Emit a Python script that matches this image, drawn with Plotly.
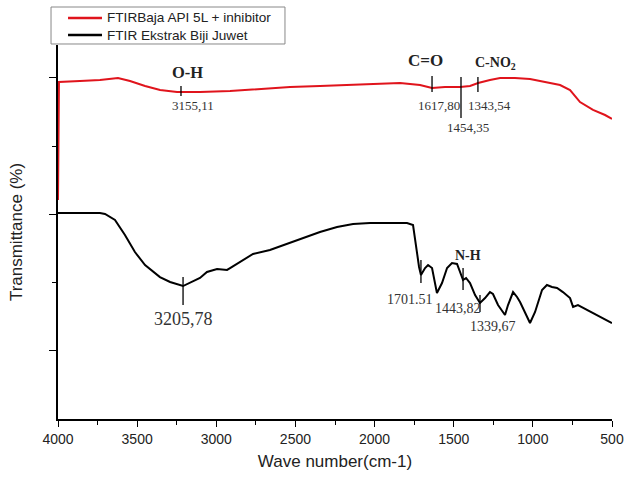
import plotly.graph_objects as go

# Wavenumber (cm-1) and transmittance (arbitrary, offset)
red_x = [4000, 3994, 3861, 3735, 3621, 3545, 3450, 3355, 3248, 3103, 2913, 2724, 2534, 2345,
         2155, 1966, 1839, 1713, 1637, 1555, 1460, 1397, 1346, 1271, 1207, 1113, 1018, 923,
         828, 765, 702, 620, 544, 500]
red_y = [160.4, 246.9, 247.6, 248.4, 249.8, 247.6, 244.0, 241.0, 239.6, 239.6, 240.3, 241.8,
         243.2, 244.0, 244.7, 245.4, 246.2, 244.7, 242.5, 243.2, 243.2, 244.0, 246.2, 248.4,
         249.8, 249.8, 249.1, 246.9, 244.7, 241.0, 232.2, 226.4, 222.7, 219.8]

black_x = [4000, 3861, 3735, 3703, 3640, 3577, 3514, 3450, 3356, 3292, 3210, 3103, 3059, 2995,
           2932, 2913, 2850, 2768, 2661, 2515, 2345, 2237, 2136, 2029, 1921, 1795, 1757, 1744,
           1719, 1707, 1681, 1662, 1637, 1606, 1574, 1542, 1511, 1479, 1460, 1441, 1422, 1397,
           1365, 1334, 1302, 1271, 1252, 1220, 1176, 1157, 1125, 1100, 1081, 1050, 1018, 986,
           942, 911, 879, 847, 810, 765, 746, 715, 658, 595, 531, 500]
black_y = [150.9, 150.9, 150.9, 150.2, 145.8, 134.8, 122.3, 112.8, 104.0, 100.4, 97.4, 103.3,
           107.7, 109.9, 109.2, 110.6, 115.0, 120.9, 123.8, 129.7, 137.0, 140.7, 142.9, 143.6,
           143.6, 143.6, 142.1, 131.1, 111.4, 105.5, 110.6, 112.8, 110.6, 92.3, 99.6, 110.6,
           114.3, 113.6, 107.7, 101.8, 103.3, 99.6, 90.8, 85.0, 88.6, 93.0, 91.6, 83.5, 76.2,
           83.5, 93.0, 89.4, 85.7, 78.4, 70.3, 78.4, 94.5, 98.2, 96.7, 96.0, 93.0, 88.6, 82.1,
           83.5, 79.9, 76.2, 72.5, 70.3]

series_names = ["FTIRBaja API 5L + inhibitor", "FTIR Ekstrak Biji Juwet"]
series_colors = ["#e0141c", "black"]

# Peak marker lines: x, y0, y1
peak_x = [3223, 1637, 1454, 1347, 3210, 1707, 1441, 1334]
peak_y0 = [244.0, 251.3, 250.5, 250.5, 104.0, 116.5, 110.6, 90.8]
peak_y1 = [236.6, 239.6, 220.5, 239.6, 83.5, 99.6, 94.5, 78.4]

# Number labels
num_text = ["3155,11", "1617,80", "1454,35", "1343,54", "3205,78", "1701.51", "1443,82", "1339,67"]
num_x = [3147, 1593, 1410, 1271, 3210, 1776, 1473, 1252]
num_y = [230.0, 230.0, 213.2, 230.0, 73.0, 87.9, 80.6, 68.1]
num_size = [13, 13, 13, 13, 18, 14, 14, 14]

# Group labels
grp_text = ["O-H", "C=O", "C-NO<sub>2</sub>", "N-H"]
grp_x = [3185, 1681, 1239, 1410]
grp_y = [254.2, 263.0, 260.8, 120.1]
grp_size = [16.5, 17, 14, 14]

fig = go.Figure()
for xs, ys, nm, col in zip([red_x, black_x], [red_y, black_y], series_names, series_colors):
    fig.add_trace(go.Scatter(x=xs, y=ys, mode="lines", name=nm,
                             line=dict(color=col, width=2), showlegend=False))

for x, y0, y1 in zip(peak_x, peak_y0, peak_y1):
    fig.add_shape(type="line", xref="x", yref="y", x0=x, x1=x, y0=y0, y1=y1,
                  line=dict(color="black", width=1.3))

for t, x, y, s in zip(num_text, num_x, num_y, num_size):
    fig.add_annotation(x=x, y=y, text=t, showarrow=False, xref="x", yref="y",
                       font=dict(family="Liberation Serif", size=s, color="#333333"))

for t, x, y, s in zip(grp_text, grp_x, grp_y, grp_size):
    fig.add_annotation(x=x, y=y, text="<b>" + t + "</b>", showarrow=False, xref="x", yref="y",
                       font=dict(family="Liberation Serif", size=s, color="#222222"))

# Legend box (drawn in paper coordinates)
fig.add_shape(type="rect", xref="paper", yref="paper", x0=-0.0126, x1=0.4097, y0=1.0027, y1=1.1016,
              line=dict(color="#888888", width=1), fillcolor="white")
for nm, col, ly in zip(series_names, series_colors, [1.0722, 1.0267]):
    fig.add_shape(type="line", xref="paper", yref="paper", x0=0.0181, x1=0.0794, y0=ly, y1=ly,
                  line=dict(color=col, width=2.5))
    fig.add_annotation(x=0.0848, y=ly, xref="paper", yref="paper", text=nm, showarrow=False,
                       xanchor="left", yanchor="middle",
                       font=dict(family="Liberation Sans, Arial", size=13.6, color="#222222"))

fig.update_layout(
    width=628, height=479,
    margin=dict(l=58, r=16, t=45, b=60),
    paper_bgcolor="white", plot_bgcolor="white",
    font=dict(family="Liberation Sans, Arial", color="#222222"),
    showlegend=False,
)
fig.update_xaxes(range=[4000, 500], tickmode="linear", tick0=500, dtick=500, automargin=False,
                 ticks="outside", ticklen=6, tickwidth=1.3, tickcolor="black",
                 minor=dict(tick0=750, dtick=500, ticks="outside", ticklen=4, tickcolor="black"),
                 showline=True, linecolor="black", linewidth=1.5, showgrid=False, zeroline=False,
                 tickfont=dict(size=14, family="Liberation Sans, Arial", color="#222222"),
                 title=dict(text="Wave number(cm-1)", standoff=10,
                            font=dict(size=17, family="Liberation Sans, Arial", color="#222222")))
fig.update_yaxes(range=[0, 274], tickmode="array", tickvals=[50, 150, 250], showticklabels=False,
                 automargin=False,
                 ticks="outside", ticklen=7, tickwidth=1.3, tickcolor="black",
                 minor=dict(tickvals=[100, 200], ticks="outside", ticklen=4, tickcolor="black"),
                 showline=True, linecolor="black", linewidth=1.5, showgrid=False, zeroline=False,
                 title=dict(text="Transmittance (%)", standoff=22,
                            font=dict(size=17, family="Liberation Sans, Arial", color="#222222")))

fig.write_html("out.html")
